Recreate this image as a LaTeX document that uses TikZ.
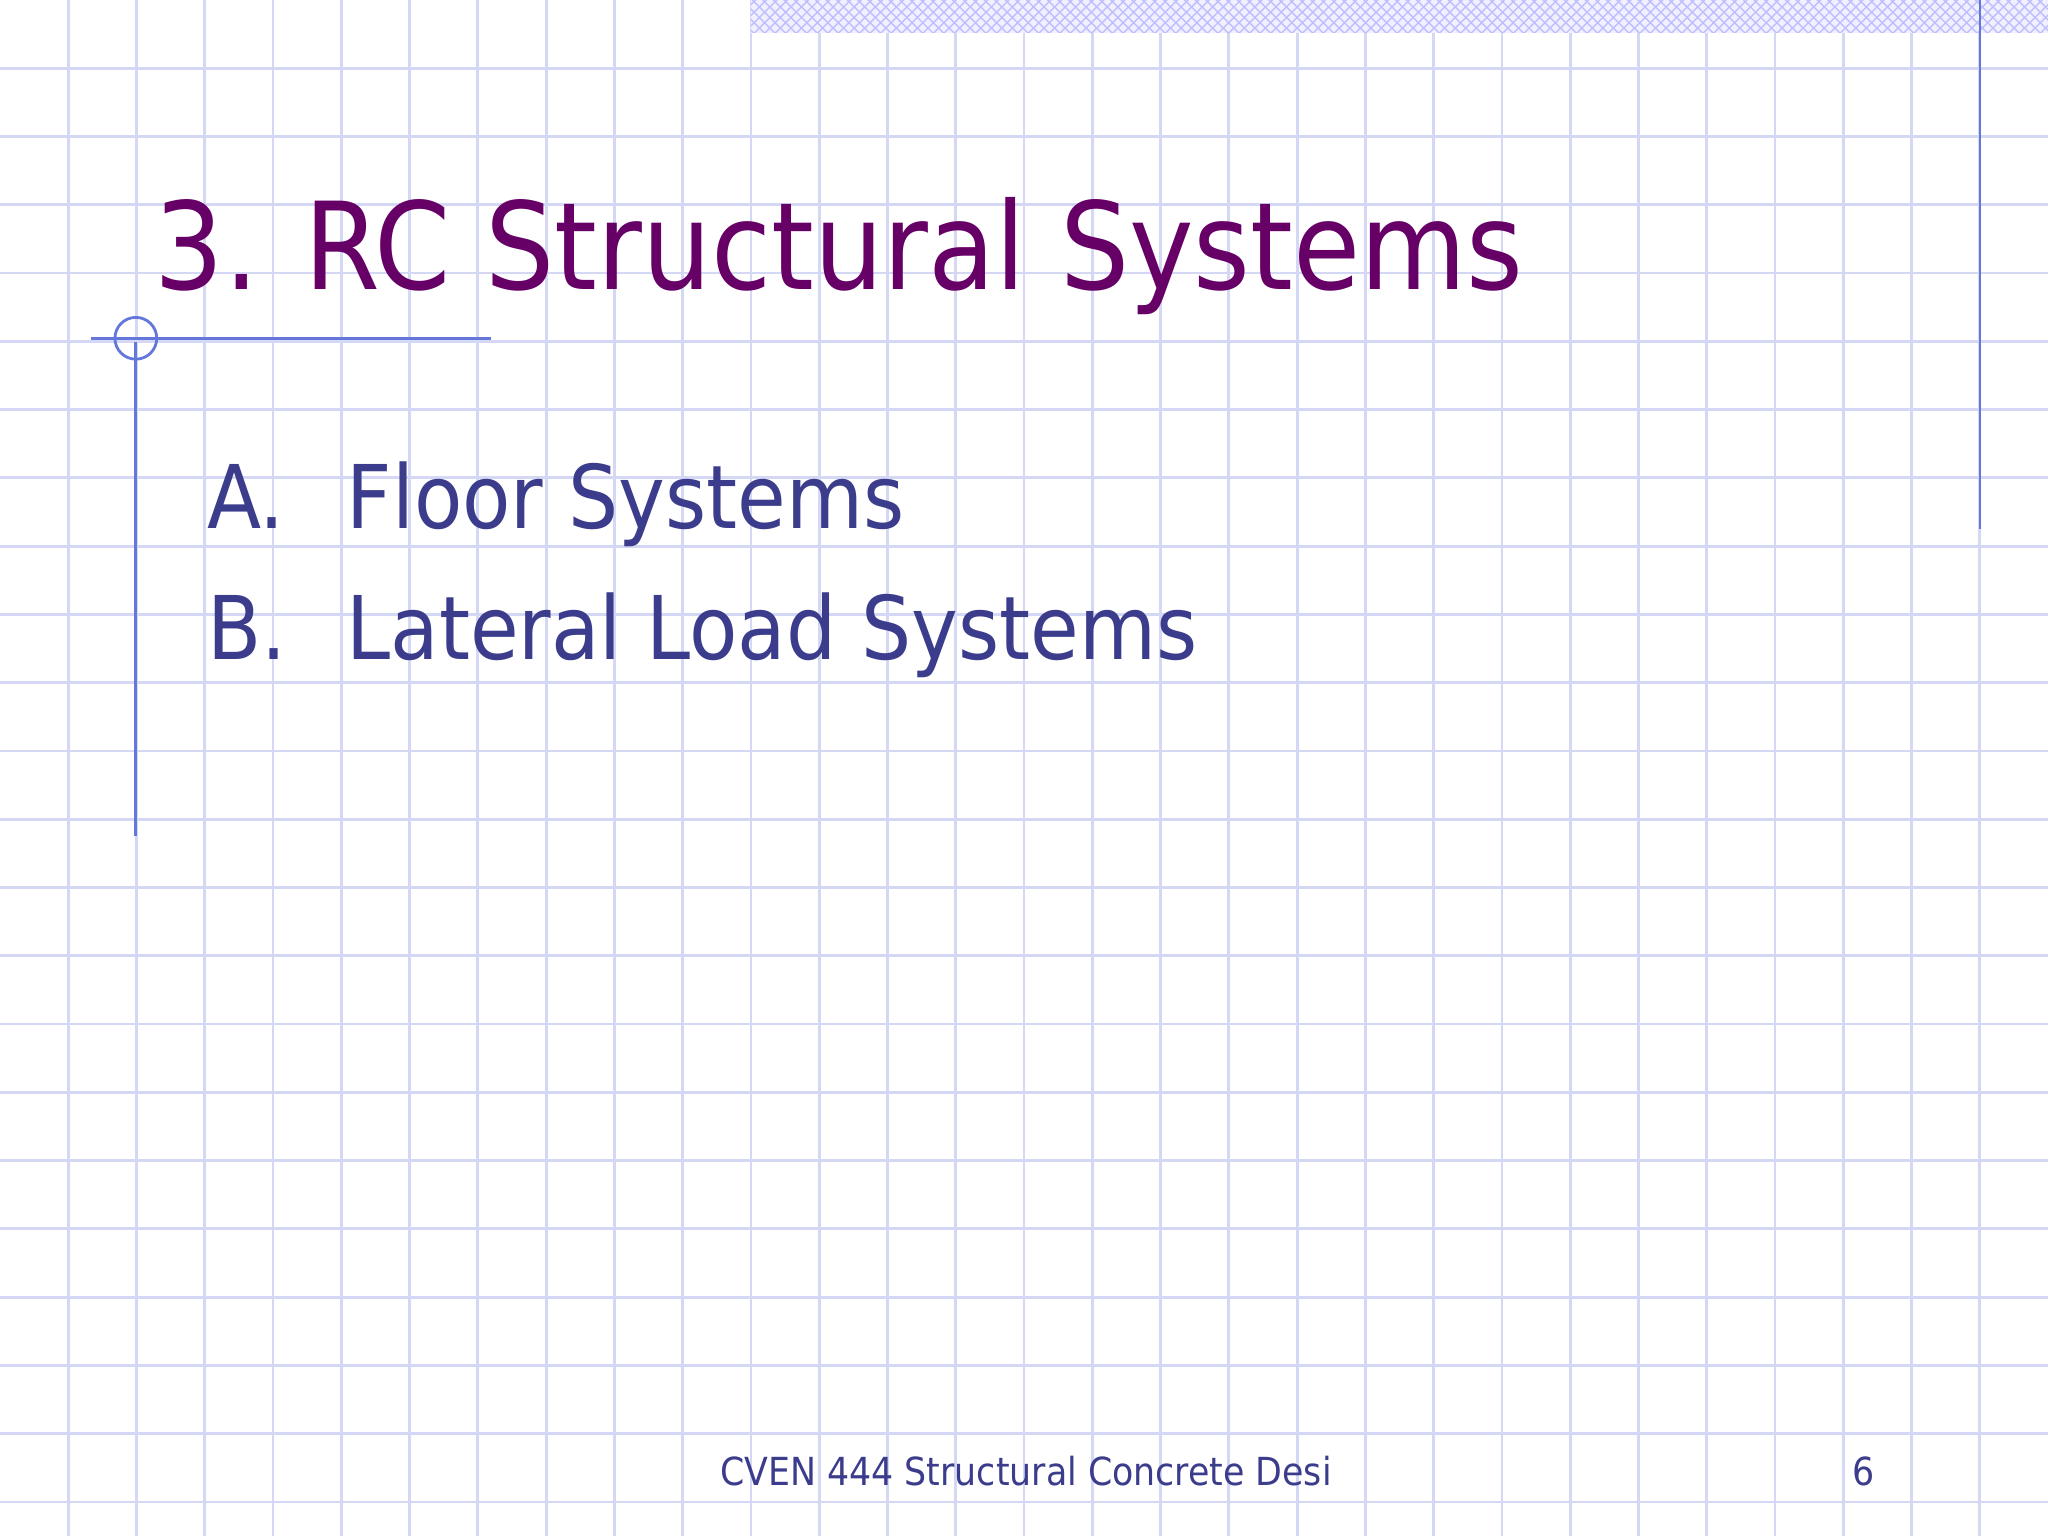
\documentclass[tikz,border=0pt]{standalone}
\usepackage{fontspec}
\setmainfont{DejaVu Sans Condensed}
\usetikzlibrary{patterns}
\definecolor{gridc}{RGB}{212,216,244}
\definecolor{linec}{RGB}{100,120,220}
\definecolor{titlec}{RGB}{102,0,102}
\definecolor{bodyc}{RGB}{60,60,140}
\begin{document}
\begin{tikzpicture}[x=0.013061cm,y=-0.013061cm,
  txt/.style={inner sep=0pt,anchor=base west}]
\useasboundingbox (0,0) rectangle (1568,1176);
\fill[white] (0,0) rectangle (1568,1176);
\foreach \i in {1,...,29} {\draw[gridc,line width=0.8pt] ({\i*52.27},0) -- ({\i*52.27},1176);}
\foreach \i in {1,...,22} {\draw[gridc,line width=0.8pt] (0,{\i*52.27}) -- (1568,{\i*52.27});}
\fill[blue!6] (575,0) rectangle (1568,25);
\fill[pattern=crosshatch,pattern color=blue!25] (575,0) rectangle (1568,25);
\draw[linec,line width=0.8pt] (1516,0) -- (1516,405);
\draw[linec,line width=0.8pt] (104,262) -- (104,640);
\draw[linec,line width=0.8pt] (70,259) -- (376,259);
\draw[linec,line width=0.8pt] (104,259) circle (16);
\node[txt,text=titlec,font=\fontsize{34.5}{40}\selectfont] (title) at (118,222) {3. RC Structural Systems};
\node[txt,text=bodyc,font=\fontsize{25}{30}\selectfont] (a) at (158,405) {A.};
\node[txt,text=bodyc,font=\fontsize{25}{30}\selectfont] (fa) at (265,405) {Floor Systems};
\node[txt,text=bodyc,font=\fontsize{25}{30}\selectfont] (b) at (158,505) {B.};
\node[txt,text=bodyc,font=\fontsize{25}{30}\selectfont] (fb) at (265,505) {Lateral Load Systems};
\node[txt,text=bodyc,font=\fontsize{11}{13}\selectfont] (foot) at (551,1137) {CVEN 444 Structural Concrete Desi};
\node[txt,text=bodyc,font=\fontsize{11}{13}\selectfont] (pg) at (1418,1137) {6};
\end{tikzpicture}
\end{document}
